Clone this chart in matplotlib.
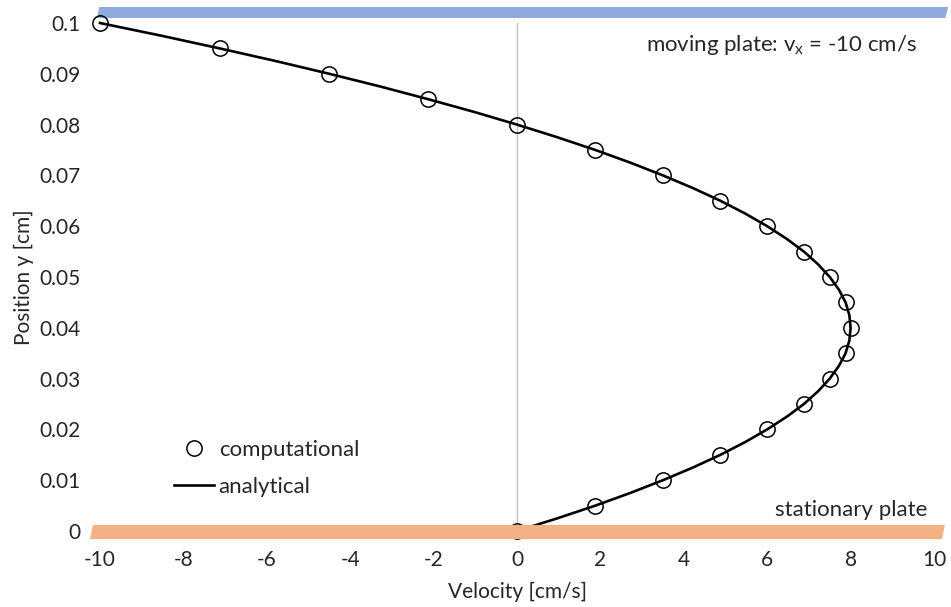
import matplotlib.pyplot as plt
from matplotlib.patches import Polygon
from matplotlib.lines import Line2D

plt.rcParams['font.family'] = ['Lato', 'DejaVu Sans']
plt.rcParams['axes.unicode_minus'] = False

# computational nodes
y_comp = [0.0, 0.005, 0.01, 0.015, 0.02, 0.025, 0.03, 0.035, 0.04, 0.045, 0.05,
          0.055, 0.06, 0.065, 0.07, 0.075, 0.08, 0.085, 0.09, 0.095, 0.1]
u_comp = [0.0, 1.88, 3.5, 4.88, 6.0, 6.88, 7.5, 7.88, 8.0, 7.88, 7.5,
          6.88, 6.0, 4.88, 3.5, 1.88, 0.0, -2.13, -4.5, -7.13, -10.0]

# analytical profile
y_ana = [0.0, 0.0025, 0.005, 0.0075, 0.01, 0.0125, 0.015, 0.0175, 0.02, 0.0225,
         0.025, 0.0275, 0.03, 0.0325, 0.035, 0.0375, 0.04, 0.0425, 0.045, 0.0475,
         0.05, 0.0525, 0.055, 0.0575, 0.06, 0.0625, 0.065, 0.0675, 0.07, 0.0725,
         0.075, 0.0775, 0.08, 0.0825, 0.085, 0.0875, 0.09, 0.0925, 0.095, 0.0975, 0.1]
u_ana = [0.0, 0.97, 1.88, 2.72, 3.5, 4.22, 4.88, 5.47, 6.0, 6.47,
         6.88, 7.22, 7.5, 7.72, 7.88, 7.97, 8.0, 7.97, 7.88, 7.72,
         7.5, 7.22, 6.88, 6.47, 6.0, 5.47, 4.88, 4.22, 3.5, 2.72,
         1.88, 0.97, 0.0, -1.03, -2.13, -3.28, -4.5, -5.78, -7.13, -8.53, -10.0]

x_ticks = [-10, -8, -6, -4, -2, 0, 2, 4, 6, 8, 10]
y_ticks = [0, 0.01, 0.02, 0.03, 0.04, 0.05, 0.06, 0.07, 0.08, 0.09, 0.1]
y_ticklabels = ['0', '0.01', '0.02', '0.03', '0.04', '0.05', '0.06', '0.07', '0.08', '0.09', '0.1']

fs = 15
txt = '#262626'

fig = plt.figure(figsize=(9.51, 6.07), dpi=100)
ax = fig.add_axes([100 / 951, 1 - 531 / 607, 834 / 951, 508 / 607])

ax.set_xlim(-10, 10)
ax.set_ylim(0, 0.1)

# vertical zero line
ax.axvline(0, color='#bfbfbf', lw=1.0, zorder=1)

ax.plot(u_ana, y_ana, color='black', lw=1.9, zorder=3, clip_on=False)
ax.plot(u_comp, y_comp, 'o', ms=11, mfc='none', mec='black', mew=1.1,
        zorder=4, clip_on=False)

# plates
top = Polygon([(-10.07, 0.10098), (-10.02, 0.10315), (10.34, 0.10315), (10.27, 0.10098)],
              closed=True, facecolor='#8faadc', edgecolor='none', clip_on=False, zorder=2)
bot = Polygon([(-10.24, -0.0016), (-10.17, 0.0012), (10.26, 0.0012), (10.19, -0.0016)],
              closed=True, facecolor='#f4b183', edgecolor='none', clip_on=False, zorder=5)
ax.add_patch(top)
ax.add_patch(bot)

ax.text(9.6, 0.0957, 'moving plate: v$_\\mathregular{x}$ = -10 cm/s', ha='right', va='center',
        fontsize=16, color=txt)
ax.text(9.85, 0.0042, 'stationary plate', ha='right', va='center', fontsize=16, color=txt)

for s in ax.spines.values():
    s.set_visible(False)
ax.set_xticks(x_ticks)
ax.set_yticks(y_ticks)
ax.set_yticklabels(y_ticklabels)
ax.tick_params(length=0, labelsize=fs, labelcolor=txt)
ax.tick_params(axis='y', pad=14)
ax.tick_params(axis='x', pad=14)

ax.set_xlabel('Velocity [cm/s]', fontsize=fs, color=txt, labelpad=8)
ax.set_ylabel('Position y [cm]', fontsize=fs, color=txt, labelpad=4)

handles = [Line2D([], [], ls='none', marker='o', ms=11, mfc='none', mec='black', mew=1.1),
           Line2D([], [], color='black', lw=1.9)]
ax.legend(handles, ['computational', 'analytical'], loc='lower left',
          bbox_to_anchor=(0.065, 0.028), frameon=False, fontsize=16,
          handlelength=1.8, handletextpad=0.2, labelspacing=0.75, labelcolor=txt)

fig.savefig('out.png', dpi=100)
